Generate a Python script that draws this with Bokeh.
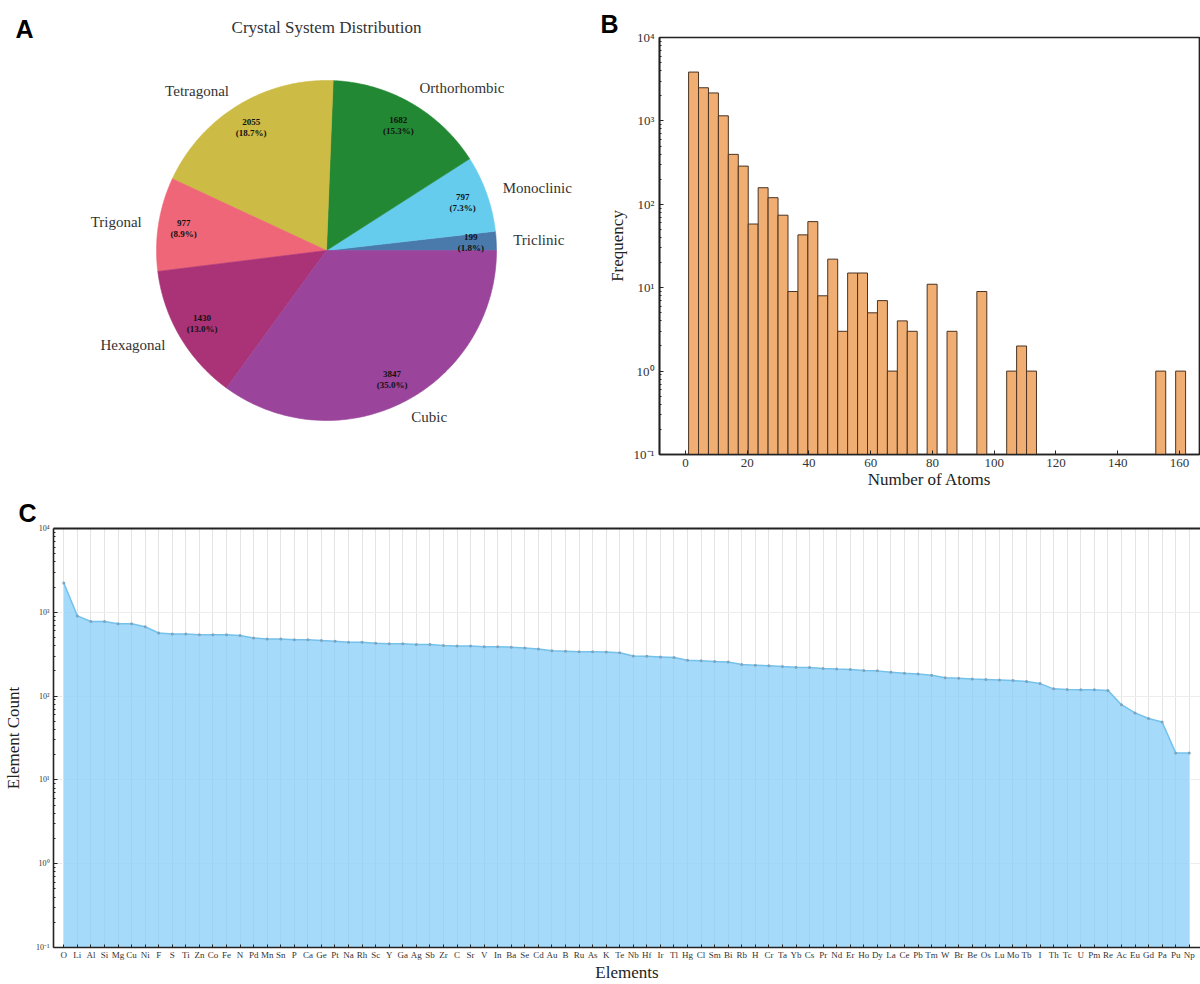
import numpy as np
from bokeh.plotting import figure
from bokeh.layouts import column, row
from bokeh.models import (Range1d, FixedTicker, CustomJSTickFormatter, LinearAxis, Title)
from bokeh.embed import file_html
from bokeh.resources import INLINE

# ---------------- data ----------------
crystal_systems = ["Triclinic", "Monoclinic", "Orthorhombic", "Tetragonal",
                   "Trigonal", "Hexagonal", "Cubic"]
crystal_counts = [199, 797, 1682, 2055, 977, 1430, 3847]
crystal_colors = ["#4A79AC", "#66CCEE", "#228833", "#CCBB44",
                  "#EE6677", "#AA3377", "#9B449B"]

atoms_min, atoms_max, atoms_bins = 1, 162, 50
atoms_freq = [3850, 2497, 2163, 1151, 397, 287, 58, 158, 120, 74,
              9, 43, 62, 8, 22, 3, 15, 15, 5, 7,
              1, 4, 3, 0, 11, 0, 3, 0, 0, 9,
              0, 0, 1, 2, 1, 0, 0, 0, 0, 0,
              0, 0, 0, 0, 0, 0, 0, 1, 0, 1]
hist_x_ticks = [0, 20, 40, 60, 80, 100, 120, 140, 160]
log_ticks = [0.1, 1, 10, 100, 1000, 10000]

elements = ["O", "Li", "Al", "Si", "Mg", "Cu", "Ni", "F", "S", "Ti",
            "Zn", "Co", "Fe", "N", "Pd", "Mn", "Sn", "P", "Ca", "Ge",
            "Pt", "Na", "Rh", "Sc", "Y", "Ga", "Ag", "Sb", "Zr", "C",
            "Sr", "V", "In", "Ba", "Se", "Cd", "Au", "B", "Ru", "As",
            "K", "Te", "Nb", "Hf", "Ir", "Tl", "Hg", "Cl", "Sm", "Bi",
            "Rb", "H", "Cr", "Ta", "Yb", "Cs", "Pr", "Nd", "Er", "Ho",
            "Dy", "La", "Ce", "Pb", "Tm", "W", "Br", "Be", "Os", "Lu",
            "Mo", "Tb", "I", "Th", "Tc", "U", "Pm", "Re", "Ac", "Eu",
            "Gd", "Pa", "Pu", "Np"]
element_counts = [2234, 906, 777, 777, 729, 729, 673, 566, 551, 551,
                  541, 541, 541, 527, 494, 481, 481, 469, 469, 460,
                  452, 440, 440, 428, 421, 421, 413, 413, 402, 395,
                  395, 388, 388, 384, 374, 364, 348, 344, 338, 338,
                  335, 329, 301, 298, 293, 288, 267, 265, 258, 256,
                  238, 234, 230, 225, 221, 219, 213, 210, 208, 202,
                  200, 192, 187, 183, 177, 166, 163, 160, 158, 156,
                  153, 149, 141, 122, 120, 119, 119, 117, 79, 63,
                  54, 49, 21, 21]

SERIF = "Liberation Serif"
SANS = "Liberation Sans"
AXIS_COLOR = "#222222"

sup_code = """
const sup = {"0":"\\u2070","1":"\\u00b9","2":"\\u00b2","3":"\\u00b3","4":"\\u2074",
             "5":"\\u2075","6":"\\u2076","7":"\\u2077","8":"\\u2078","9":"\\u2079","-":"\\u207b"};
const e = Math.round(Math.log10(tick));
return "10" + String(e).split("").map(c => sup[c]).join("");
"""


def style_axis(ax, tick_size, label_size):
    ax.axis_line_color = AXIS_COLOR
    ax.axis_line_width = 1.6
    ax.major_tick_line_color = AXIS_COLOR
    ax.minor_tick_line_color = AXIS_COLOR
    ax.major_tick_in = 4
    ax.major_tick_out = 0
    ax.minor_tick_in = 2
    ax.minor_tick_out = 0
    ax.major_label_text_font = SERIF
    ax.major_label_text_font_size = tick_size
    ax.major_label_text_color = "#333333"
    ax.axis_label_text_font = SERIF
    ax.axis_label_text_font_size = label_size
    ax.axis_label_text_font_style = "normal"
    ax.axis_label_text_color = "#222222"


def letter_title(fig, letter, offset, valign="bottom"):
    fig.title = Title(text=letter, align="left", offset=offset, standoff=0,
                      vertical_align=valign,
                      text_font=SANS, text_font_size="25px", text_font_style="bold",
                      text_color="#000000")


TOP_H = 492

# ---------------- Panel A : pie ----------------
PIE_W = 600
PCX, PCY, PR = 326, 250, 170
pie = figure(width=PIE_W, height=TOP_H,
             x_range=Range1d(-PCX / PR, (PIE_W - PCX) / PR),
             y_range=Range1d((PCY - TOP_H) / PR, PCY / PR),
             x_axis_type=None, y_axis_type=None, toolbar_location=None,
             output_backend="svg", min_border=0, outline_line_color=None)

counts = np.array(crystal_counts, dtype=float)
frac = counts / counts.sum()
ends = np.cumsum(frac) * 2 * np.pi
starts = ends - frac * 2 * np.pi
xs, ys = [], []
for a0, a1 in zip(starts, ends):
    t = np.linspace(a0, a1, 150)
    xs.append(np.concatenate([[0.0], np.cos(t)]).tolist())
    ys.append(np.concatenate([[0.0], np.sin(t)]).tolist())
pie.patches(xs, ys, fill_color=crystal_colors, line_color=crystal_colors, line_width=0.6)

mid = (starts + ends) / 2
right = np.cos(mid) >= 0
for mask, align in [(right, "left"), (~right, "right")]:
    pie.text(x=(1.1 * np.cos(mid[mask])).tolist(), y=(1.1 * np.sin(mid[mask])).tolist(),
             text=[s for s, m in zip(crystal_systems, mask) if m],
             text_align=align, text_baseline="middle", text_font={"value": SERIF},
             text_font_size="15px", text_color="#333333")
inner = [f"{c}\n({p * 100:.1f}%)" for c, p in zip(crystal_counts, frac)]
pie.text(x=(0.85 * np.cos(mid)).tolist(), y=(0.85 * np.sin(mid)).tolist(), text=inner,
         text_align="center", text_baseline="middle", text_font={"value": SERIF},
         text_font_size="9px", text_font_style="bold", text_color="#111111",
         text_line_height=1.1)
pie.text(x=[0.0], y=[(PCY - 27) / PR], text=["Crystal System Distribution"],
         text_align="center", text_baseline="middle", text_font={"value": SERIF},
         text_font_size="17px", text_color="#333333")
pie.text(x=[(15 - PCX) / PR], y=[(PCY - 14) / PR], text=["A"], text_align="left",
         text_baseline="top", text_font={"value": SANS}, text_font_size="25px",
         text_font_style="bold", text_color="#000000")

# ---------------- Panel B : histogram ----------------
H_W = 600
hist = figure(width=H_W, height=TOP_H, y_axis_type="log",
              x_range=Range1d(-8.42, 166.5), y_range=Range1d(0.1, 1e4),
              min_border_left=59, min_border_right=1, min_border_top=37,
              min_border_bottom=38, toolbar_location=None, output_backend="svg",
              outline_line_color=AXIS_COLOR, outline_line_width=1.7)
edges = np.linspace(atoms_min, atoms_max, atoms_bins + 1)
freq = np.array(atoms_freq, dtype=float)
nz = freq > 0
hist.quad(left=edges[:-1][nz], right=edges[1:][nz], bottom=0.1, top=freq[nz],
          fill_color="#F0AE72", line_color="#4A3322", line_width=1)
hist.xgrid.visible = False
hist.ygrid.visible = False
hist.xaxis.ticker = FixedTicker(ticks=hist_x_ticks)
minor = [m * 10.0 ** e for e in range(-1, 4) for m in range(2, 10)]
hist.yaxis.ticker = FixedTicker(ticks=log_ticks, minor_ticks=minor)
hist.yaxis.formatter = CustomJSTickFormatter(code=sup_code)
hist.xaxis.axis_label = "Number of Atoms"
hist.yaxis.axis_label = "Frequency"
for ax in hist.xaxis + hist.yaxis:
    style_axis(ax, "13px", "17px")
hist.xaxis.major_label_standoff = 4
hist.xaxis.axis_label_standoff = 0
hist.yaxis.major_label_standoff = 5
hist.yaxis.axis_label_standoff = 4
letter_title(hist, "B", -59)

# ---------------- Panel C : element counts ----------------
C_W, C_H = 1200, 984 - TOP_H
cfig = figure(width=C_W, height=C_H, y_axis_type="log",
              x_range=Range1d(-0.76, 83.83), y_range=Range1d(0.1, 1e4),
              min_border_left=53, min_border_right=0, min_border_top=36,
              min_border_bottom=33, toolbar_location=None, output_backend="svg",
              outline_line_color=None)
ex = np.arange(len(elements))
cfig.varea(x=ex, y1=0.1, y2=element_counts, fill_color="#87CEFA", fill_alpha=0.75)
cfig.line(ex, element_counts, line_color="#72C2EC", line_width=1.5)
cfig.scatter(ex, element_counts, size=3, fill_color="#7FA3BC", line_color=None)
cfig.xaxis.ticker = FixedTicker(ticks=ex.tolist())
cfig.xaxis.major_label_overrides = {int(i): el for i, el in enumerate(elements)}
cfig.xgrid.ticker = FixedTicker(ticks=ex.tolist())
cfig.xgrid.grid_line_color = "#E4E4E4"
cfig.ygrid.ticker = FixedTicker(ticks=log_ticks)
cfig.ygrid.grid_line_color = "#EDEDED"
cfig.yaxis.ticker = FixedTicker(ticks=log_ticks, minor_ticks=minor)
cfig.yaxis.formatter = CustomJSTickFormatter(code=sup_code)
cfig.xaxis.axis_label = "Elements"
cfig.yaxis.axis_label = "Element Count"
for ax in cfig.xaxis:
    style_axis(ax, "9px", "17px")
for ax in cfig.yaxis:
    style_axis(ax, "8px", "17px")
cfig.xaxis.major_tick_in = 3
cfig.xaxis.major_label_standoff = 2
cfig.xaxis.axis_label_standoff = 0
cfig.yaxis.major_label_standoff = 4
cfig.yaxis.axis_label_standoff = 10
top_ax = LinearAxis(ticker=FixedTicker(ticks=[]), major_label_text_font_size="0px",
                    axis_line_color=AXIS_COLOR, axis_line_width=1.8,
                    major_tick_line_color=None, minor_tick_line_color=None,
                    major_tick_out=0, major_tick_in=0, major_label_standoff=0)
cfig.add_layout(top_ax, "above")
letter_title(cfig, "C", -35, valign="top")

layout = column(row(column(pie), column(hist)), cfig)
open("out.html", "w", encoding="utf-8").write(file_html(layout, INLINE))
